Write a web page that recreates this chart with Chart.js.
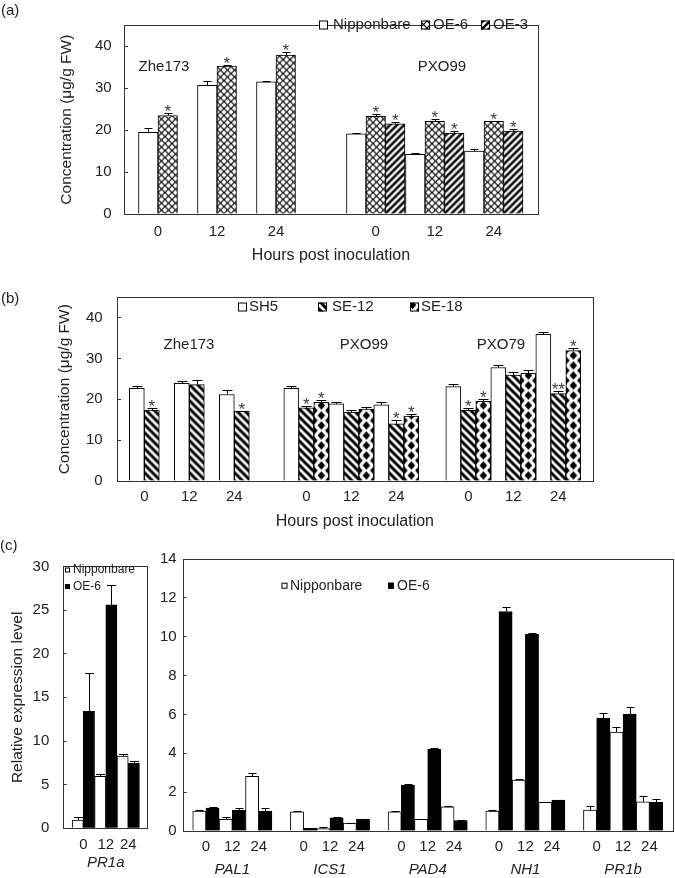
<!DOCTYPE html>
<html>
<head>
<meta charset="utf-8">
<script src="https://cdn.jsdelivr.net/npm/chart.js@4.4.0/dist/chart.umd.min.js"></script>
<style>
  html, body { margin: 0; padding: 0; background: #fff; }
  #page { position: relative; width: 675px; height: 878px; overflow: hidden; }
  canvas { position: absolute; }
</style>
</head>
<body>
<div id="page">
  <canvas id="chart-a" style="left:0;top:0;width:675px;height:270px" width="675" height="270"></canvas>
  <canvas id="chart-b" style="left:0;top:270px;width:675px;height:270px" width="675" height="270"></canvas>
  <canvas id="chart-c1" style="left:0;top:540px;width:160px;height:338px" width="160" height="338"></canvas>
  <canvas id="chart-c2" style="left:150px;top:540px;width:525px;height:338px" width="525" height="338"></canvas>
</div>
<script>
const hours = ['0', '12', '24']

// (a) SA concentration, Nipponbare vs overexpression lines
const strainsA = ['Zhe173', 'PXO99']
const nipponbareA = [19.5, 30.7, 31.5, 19.1, 14.2, 15.0]
const nipponbareAErr = [1.1, 1.0, 0.2, 0.2, 0.45, 0.45]
const oe6A = [23.5, 35.3, 37.9, 23.3, 22.1, 22.1]
const oe6AErr = [0.65, 0.15, 0.75, 0.55, 0.45, 0.15]
const oe6AStars = ['*', '*', '*', '*', '*', '*']
const oe3A = [null, null, null, 21.5, 19.3, 19.8]
const oe3AErr = [null, null, null, 0.5, 0.55, 0.5]
const oe3AStars = ['', '', '', '*', '*', '*']

// (b) SA concentration, SH5 vs silenced lines
const strainsB = ['Zhe173', 'PXO99', 'PXO79']
const sh5 = [22.7, 23.9, 21.2, 22.7, 18.9, 18.65, 23.1, 27.8, 35.9]
const sh5Err = [0.6, 0.5, 1.2, 0.6, 0.5, 0.6, 0.55, 0.5, 0.6]
const se12 = [17.35, 23.6, 17.1, 17.9, 16.9, 14.0, 17.3, 25.95, 21.4]
const se12Err = [0.55, 1.05, 0.1, 0.4, 0.45, 0.9, 0.6, 0.7, 0.65]
const se12Stars = ['*', '', '*', '*', '', '*', '*', '', '**']
const se18 = [null, null, null, 19.3, 17.6, 15.9, 19.5, 26.35, 31.95]
const se18Err = [null, null, null, 0.45, 0.45, 0.6, 0.55, 0.9, 0.55]
const se18Stars = ['', '', '', '*', '', '*', '*', '', '*']

// (c) relative expression
const pr1aGene = ['PR1a']
const pr1aNip = [0.93, 5.96, 8.27]
const pr1aNipErr = [0.37, 0.25, 0.23]
const pr1aOE6 = [13.4, 25.6, 7.45]
const pr1aOE6Err = [4.4, 2.25, 0.27]

const genes = ['PAL1', 'ICS1', 'PAD4', 'NH1', 'PR1b']
const genesNip = [1.03, 0.6, 2.82, 0.99, 0.12, 0.41, 0.99, 0.6, 1.25, 1.03, 2.62, 1.47, 1.08, 5.09, 1.5]
const genesNipErr = [0.05, 0.1, 0.14, 0.02, 0.1, 0.02, 0.02, 0.02, 0.02, 0.03, 0.06, 0.03, 0.2, 0.24, 0.29]
const genesOE6 = [1.18, 1.06, 1.03, 0.14, 0.68, 0.61, 2.36, 4.2, 0.53, 11.3, 10.12, 1.59, 5.81, 6.02, 1.47]
const genesOE6Err = [0.05, 0.14, 0.13, 0.02, 0.03, 0.02, 0.04, 0.05, 0.02, 0.25, 0.05, 0.03, 0.24, 0.35, 0.17]

const FONT = "'Liberation Sans', Arial, sans-serif"
const INK = '#222'
Chart.defaults.font.family = FONT
Chart.defaults.color = INK

function makeTile(w, h, draw) {
  const c = document.createElement('canvas')
  c.width = w
  c.height = h
  const ctx = c.getContext('2d')
  ctx.fillStyle = '#fff'
  ctx.fillRect(0, 0, w, h)
  ctx.strokeStyle = '#000'
  ctx.fillStyle = '#000'
  draw(ctx, w, h)
  return c
}

const tiles = {
  cross: makeTile(7, 7, (ctx, s) => {
    ctx.lineWidth = 1.15
    ctx.beginPath()
    ctx.moveTo(-1, -1); ctx.lineTo(s + 1, s + 1)
    ctx.moveTo(s + 1, -1); ctx.lineTo(-1, s + 1)
    ctx.stroke()
  }),
  rising: makeTile(7, 7, (ctx, s) => {
    ctx.lineWidth = 2.5
    ctx.beginPath()
    ctx.moveTo(-1, s + 1); ctx.lineTo(s + 1, -1)
    ctx.moveTo(-s / 2, s / 2); ctx.lineTo(s / 2, -s / 2)
    ctx.moveTo(s / 2, s * 1.5); ctx.lineTo(s * 1.5, s / 2)
    ctx.stroke()
  }),
  falling: makeTile(8, 8, (ctx, s) => {
    ctx.lineWidth = 3
    ctx.beginPath()
    ctx.moveTo(-1, -1); ctx.lineTo(s + 1, s + 1)
    ctx.moveTo(-s / 2, s / 2); ctx.lineTo(s / 2, s * 1.5)
    ctx.moveTo(s / 2, -s / 2); ctx.lineTo(s * 1.5, s / 2)
    ctx.stroke()
  }),
  diamonds: makeTile(15, 10, (ctx, w, h) => {
    ;[[w / 2, h / 2], [0, 0], [w, 0], [0, h], [w, h]].forEach(([cx, cy]) => {
      ctx.beginPath()
      ctx.moveTo(cx, cy - 4.3)
      ctx.lineTo(cx + 3.8, cy)
      ctx.lineTo(cx, cy + 4.3)
      ctx.lineTo(cx - 3.8, cy)
      ctx.closePath()
      ctx.fill()
    })
  }),
}

// x positions: groups of three time points with a gap between groups
function positions(groups, step) {
  const out = []
  groups.forEach((g, gi) => hours.forEach((h, hi) => out.push(gi * step + hi)))
  return out
}

function series(label, values, errors, stars, xs, fill, tile) {
  return {
    label,
    data: xs.map((x, i) => ({ x, y: values[i] })),
    errors,
    stars,
    tile,
    backgroundColor: tile ? (c) => c.chart.ctx.createPattern(tile, 'repeat') : fill,
    borderColor: '#000',
    borderWidth: 1,
  }
}

const decor = {
  id: 'decor',
  beforeDatasetsDraw(chart) {
    // anchor each hatch pattern to its own bar like the original
    chart.data.datasets.forEach((ds, di) => {
      if (!ds.tile) return
      chart.getDatasetMeta(di).data.forEach((bar, i) => {
        if (ds.data[i].y == null || !bar.options) return
        const p = chart.ctx.createPattern(ds.tile, 'repeat')
        p.setTransform(new DOMMatrix().translate(bar.x - bar.width / 2, bar.base))
        bar.options.backgroundColor = p
      })
    })
  },
  afterDatasetsDraw(chart, args, opts) {
    const { ctx, scales } = chart
    ctx.save()
    chart.data.datasets.forEach((ds, di) => {
      chart.getDatasetMeta(di).data.forEach((bar, i) => {
        const v = ds.data[i].y
        if (v == null) return
        const err = (ds.errors && ds.errors[i]) || 0
        const x = Math.round(bar.x) + 0.5
        const top = Math.round(scales.y.getPixelForValue(v + err)) + 0.5
        if (err) {
          ctx.strokeStyle = '#000'
          ctx.lineWidth = 1
          ctx.beginPath()
          ctx.moveTo(x, bar.y)
          ctx.lineTo(x, top)
          ctx.moveTo(x - opts.cap / 2, top)
          ctx.lineTo(x + opts.cap / 2, top)
          ctx.stroke()
        }
        const star = ds.stars && ds.stars[i]
        if (star) {
          ctx.fillStyle = '#3a3a3a'
          ctx.font = `17px ${FONT}`
          ctx.textAlign = 'center'
          ctx.textBaseline = 'alphabetic'
          ctx.fillText(star, bar.x, top + 3)
        }
      })
    })
    ctx.restore()
  },
  afterDraw(chart, args, opts) {
    const { ctx, chartArea: a } = chart
    ctx.save()
    ctx.strokeStyle = '#333'
    ctx.lineWidth = 1
    const l = Math.round(a.left), t = Math.round(a.top)
    ctx.strokeRect(l + 0.5, t + 0.5, Math.round(a.right) - l, Math.round(a.bottom) - t)

    const lg = opts.legend
    if (lg) {
      ctx.font = `${lg.font}px ${FONT}`
      ctx.textBaseline = 'middle'
      ctx.textAlign = 'left'
      lg.items.forEach((it) => {
        const ds = chart.data.datasets[it.ds]
        const y = it.y ?? lg.y
        ctx.fillStyle = ds.tile ? ctx.createPattern(ds.tile, 'repeat') : ds.backgroundColor
        ctx.fillRect(it.x, y - lg.box / 2, lg.box, lg.box)
        ctx.strokeStyle = '#000'
        ctx.strokeRect(it.x + 0.5, y - lg.box / 2 + 0.5, lg.box - 1, lg.box - 1)
        ctx.fillStyle = INK
        ctx.fillText(ds.label, it.tx, y)
      })
    }

    ;(opts.notes || []).forEach((n) => {
      ctx.font = `${n.size || 15}px ${FONT}`
      ctx.fillStyle = INK
      ctx.textAlign = n.align || 'center'
      ctx.textBaseline = 'middle'
      ctx.fillText(n.text, n.x, n.y)
    })
    ctx.restore()
  },
}

function yAxis(max, step, width, pad, title, titlePad) {
  return {
    min: 0,
    max,
    border: { display: false },
    grid: { drawOnChartArea: false, drawTicks: true, tickLength: -4, color: '#333' },
    ticks: { stepSize: step, padding: pad, color: INK, font: { size: 15 } },
    title: title
      ? { display: true, text: title, color: INK, font: { size: 15.5 }, padding: { top: titlePad, bottom: 0 } }
      : { display: false },
    afterBuildTicks: (s) => { s.ticks = s.ticks.filter((t) => t.value % step === 0) },
    afterFit: (s) => { s.width = width },
  }
}

function xAxis(min, max, ticksAt, labels, height, pad, opts = {}) {
  return {
    type: 'linear',
    position: 'bottom',
    min,
    max,
    offset: false,
    weight: opts.weight || 0,
    border: { display: false },
    grid: { display: false, drawTicks: false, offset: false },
    ticks: {
      padding: pad,
      autoSkip: false,
      maxRotation: 0,
      color: INK,
      font: { size: 15, style: opts.italic ? 'italic' : 'normal' },
      callback: (v, i) => labels[i],
    },
    title: opts.title
      ? { display: true, text: opts.title, color: INK, font: { size: 16 }, padding: { top: 0, bottom: opts.titlePad } }
      : { display: false },
    afterBuildTicks: (s) => { s.ticks = ticksAt.map((v) => ({ value: v })) },
    afterFit: (s) => { s.height = height },
  }
}

function baseOptions(padding, barThickness, decorOpts, scales) {
  return {
    responsive: false,
    animation: false,
    devicePixelRatio: 1,
    layout: { padding },
    datasets: { bar: { barThickness, skipNull: true, grouped: true } },
    plugins: { legend: { display: false }, tooltip: { enabled: false }, decor: decorOpts },
    scales,
  }
}

// ---- (a)
const xA = positions(strainsA, 3.69)
new Chart(document.getElementById('chart-a'), {
  type: 'bar',
  data: {
    datasets: [
      series('Nipponbare', nipponbareA, nipponbareAErr, null, xA, '#fff'),
      series('OE-6', oe6A, oe6AErr, oe6AStars, xA, null, tiles.cross),
      series('OE-3', oe3A, oe3AErr, oe3AStars, xA, null, tiles.rising),
    ],
  },
  options: baseOptions({ left: 0, top: 3, right: 137, bottom: 0 }, 19.5, {
    cap: 8,
    legend: {
      font: 15, box: 9, y: 25,
      items: [{ ds: 0, x: 319, tx: 333 }, { ds: 1, x: 421, tx: 433 }, { ds: 2, x: 481, tx: 493 }],
    },
    notes: [
      { text: '(a)', x: 1, y: 11, align: 'left' },
      { text: strainsA[0], x: 164, y: 67 },
      { text: strainsA[1], x: 442, y: 67 },
    ],
  }, {
    x: xAxis(-0.576, 6.44, xA, xA.map((v, i) => hours[i % 3]), 56, 8.7, { title: 'Hours post inoculation', titlePad: 4.4 }),
    y: yAxis(45, 10, 124, 16.3, 'Concentration (μg/g FW)', 57.7),
  }),
  plugins: [decor],
})

// ---- (b)
const xB = positions(strainsB, 3.6)
new Chart(document.getElementById('chart-b'), {
  type: 'bar',
  data: {
    datasets: [
      series('SH5', sh5, sh5Err, null, xB, '#fff'),
      series('SE-12', se12, se12Err, se12Stars, xB, null, tiles.falling),
      series('SE-18', se18, se18Err, se18Stars, xB, null, tiles.diamonds),
    ],
  },
  options: baseOptions({ left: 0, top: 15, right: 82.3, bottom: 0 }, 15, {
    cap: 10,
    legend: {
      font: 15, box: 9, y: 37,
      items: [{ ds: 0, x: 238, tx: 249 }, { ds: 1, x: 318, tx: 332 }, { ds: 2, x: 410, tx: 421 }],
    },
    notes: [
      { text: '(b)', x: 1, y: 29, align: 'left' },
      { text: strainsB[0], x: 189, y: 75 },
      { text: strainsB[1], x: 364, y: 75 },
      { text: strainsB[2], x: 501, y: 75 },
    ],
  }, {
    x: xAxis(-0.607, 9.964, xB, xB.map((v, i) => hours[i % 3]), 59, 7.3, { title: 'Hours post inoculation', titlePad: 8.7 }),
    y: yAxis(45, 10, 117, 18.3, 'Concentration (μg/g FW)', 55.2),
  }),
  plugins: [decor],
})

// ---- (c) PR1a
const xC1 = positions(pr1aGene, 3.7)
new Chart(document.getElementById('chart-c1'), {
  type: 'bar',
  data: {
    datasets: [
      series('Nipponbare', pr1aNip, pr1aNipErr, null, xC1, '#fff'),
      series('OE-6', pr1aOE6, pr1aOE6Err, null, xC1, '#000'),
    ],
  },
  options: baseOptions({ left: 0, top: 21.5, right: 12.7, bottom: 0 }, 11.2, {
    cap: 9,
    legend: {
      font: 12, box: 5,
      items: [{ ds: 0, x: 65, tx: 73, y: 30 }, { ds: 1, x: 65, tx: 73, y: 46.5 }],
    },
    notes: [{ text: '(c)', x: 0, y: 6, align: 'left' }],
  }, {
    x: xAxis(-0.92, 2.85, xC1, hours, 24, 7.7),
    x2: xAxis(-0.92, 2.85, pr1aGene.map((g, i) => i * 3.7 + 1), pr1aGene, 25.7, 1.4, { italic: true, weight: 1 }),
    y: yAxis(30, 5, 62.7, 17.4, 'Relative expression level', 8.2),
  }),
  plugins: [decor],
})

// ---- (c) other genes
const xC2 = positions(genes, 3.7)
new Chart(document.getElementById('chart-c2'), {
  type: 'bar',
  data: {
    datasets: [
      series('Nipponbare', genesNip, genesNipErr, null, xC2, '#fff'),
      series('OE-6', genesOE6, genesOE6Err, null, xC2, '#000'),
    ],
  },
  options: baseOptions({ left: 0, top: 17.5, right: 2.3, bottom: 0 }, 13.2, {
    cap: 8,
    legend: {
      font: 14, box: 6, y: 45.7,
      items: [{ ds: 0, x: 131.5, tx: 140 }, { ds: 1, x: 238, tx: 247 }],
    },
  }, {
    x: xAxis(-0.88, 17.68, xC2, xC2.map((v, i) => hours[i % 3]), 26, 6.7),
    x2: xAxis(-0.88, 17.68, genes.map((g, i) => i * 3.7 + 1), genes, 21, 4, { italic: true, weight: 1 }),
    y: yAxis(14, 2, 32.7, 10, null, 0),
  }),
  plugins: [decor],
})
</script>
</body>
</html>
